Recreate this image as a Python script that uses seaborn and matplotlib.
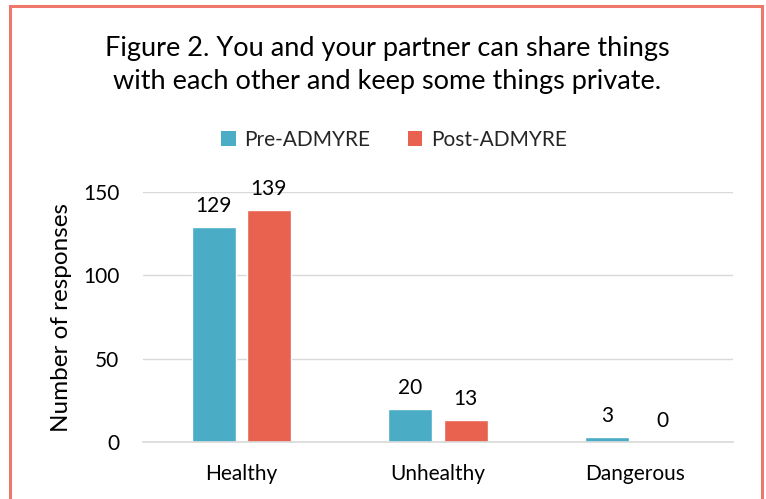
import matplotlib
matplotlib.use("Agg")
import matplotlib.pyplot as plt
from matplotlib.patches import Rectangle, Patch
import seaborn as sns
import pandas as pd

categories = ["Healthy", "Unhealthy", "Dangerous"]
series_names = ["Pre-ADMYRE", "Post-ADMYRE"]
pre_values = [129, 20, 3]
post_values = [139, 13, 0]
y_ticks = [0, 50, 100, 150]

title = "Figure 2. You and your partner can share things\nwith each other and keep some things private."
y_label = "Number of responses"

colors = ["#4BACC6", "#E8624F"]

df = pd.DataFrame({
    "category": categories * 2,
    "series": [series_names[0]] * 3 + [series_names[1]] * 3,
    "value": pre_values + post_values,
})

sns.set_theme(style="white")
plt.rcParams["font.family"] = ["Lato", "DejaVu Sans"]

fig = plt.figure(figsize=(7.66, 4.99), dpi=100)
ax = fig.add_axes([143 / 766, 1 - 442 / 499, 590 / 766, 250 / 499])

sns.barplot(data=df, x="category", y="value", hue="series", order=categories,
            hue_order=series_names, palette=colors, width=0.56, gap=0.2,
            saturation=1, legend=False, ax=ax)

for cont in ax.containers:
    ax.bar_label(cont, padding=8, fontsize=15, color="#000000")

ax.set_ylim(0, 150)
ax.set_yticks(y_ticks)
ax.set_xlim(-0.5, 2.5)
ax.yaxis.grid(True, color="#D9D9D9", linewidth=1)
ax.set_axisbelow(True)
for s in ["top", "right", "left"]:
    ax.spines[s].set_visible(False)
ax.spines["bottom"].set_color("#D9D9D9")
ax.spines["bottom"].set_linewidth(1.2)
ax.tick_params(axis="both", length=0, labelsize=15, colors="#000000")
ax.tick_params(axis="x", pad=16)
ax.tick_params(axis="y", pad=17)
ax.set_xlabel("")
ax.set_ylabel(y_label, fontsize=17.5, color="#000000", labelpad=8)

fig.text(0.505, 1 - 65 / 499, title, ha="center", va="center", fontsize=19.5,
         linespacing=1.42, color="#000000")

handles = [Patch(facecolor=c, edgecolor="none") for c in colors]
fig.legend(handles, series_names, loc="center", bbox_to_anchor=(394 / 766, 1 - 140 / 499),
           ncol=2, frameon=False, fontsize=15, handlelength=0.7, handleheight=0.7,
           handletextpad=0.4, columnspacing=1.8)

fig.patches.append(Rectangle((10 / 766, -0.05), 752 / 766, 1.05 - 6 / 499,
                             transform=fig.transFigure, fill=False,
                             edgecolor="#F0786A", linewidth=2.2))

fig.savefig("out.png", dpi=100)
